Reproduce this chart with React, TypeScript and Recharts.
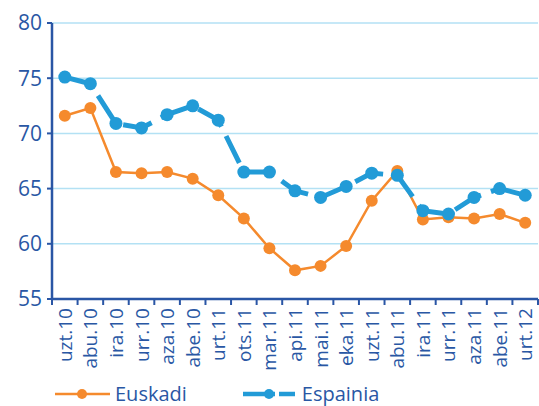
import { LineChart, Line, XAxis, YAxis, CartesianGrid, Legend } from 'recharts'

document.body.style.margin = '0'

const months = [
  'uzt.10', 'abu.10', 'ira.10', 'urr.10', 'aza.10', 'abe.10', 'urt.11', 'ots.11', 'mar.11', 'api.11',
  'mai.11', 'eka.11', 'uzt.11', 'abu.11', 'ira.11', 'urr.11', 'aza.11', 'abe.11', 'urt.12',
]
const euskadi = [71.6, 72.3, 66.5, 66.4, 66.5, 65.9, 64.4, 62.3, 59.6, 57.6, 58.0, 59.8, 63.9, 66.6, 62.2, 62.4, 62.3, 62.7, 61.9]
const espainia = [75.1, 74.5, 70.9, 70.5, 71.7, 72.5, 71.2, 66.5, 66.5, 64.8, 64.2, 65.2, 66.4, 66.2, 63.0, 62.7, 64.2, 65.0, 64.4]
const yTicks = [55, 60, 65, 70, 75, 80]

const data = months.map((m, i) => ({ month: m, euskadi: euskadi[i], espainia: espainia[i] }))

const W = 539
const H = 406
const Y_W = 52
const RIGHT = 1
const BAND = (W - Y_W - RIGHT) / months.length

const AXIS = '#2a56a5'
const TEXT = '#2957a4'
const ORANGE = '#f58a2d'
const BLUE = '#229bd7'
const FONT = '"Open Sans", sans-serif'

function MonthTick({ x, y, payload, index }: any) {
  const ty = y + 9
  return (
    <g>
      <line x1={x - BAND / 2} x2={x - BAND / 2} y1={y} y2={y + 6} stroke={AXIS} strokeWidth={2} />
      {index === months.length - 1 && (
        <line x1={x + BAND / 2} x2={x + BAND / 2} y1={y} y2={y + 6} stroke={AXIS} strokeWidth={2} />
      )}
      <text
        x={x}
        y={ty}
        transform={`rotate(-90 ${x} ${ty})`}
        textAnchor="end"
        dominantBaseline="central"
        fill={TEXT}
        fontSize={19}
        fontFamily={FONT}
      >
        {payload.value}
      </text>
    </g>
  )
}

function LegendContent() {
  return (
    <div
      style={{
        display: 'flex',
        alignItems: 'center',
        height: 24,
        lineHeight: '24px',
        paddingLeft: 55,
        fontFamily: FONT,
        fontSize: 20,
        color: TEXT,
      }}
    >
      <svg width={56} height={14}>
        <line x1={0} x2={55} y1={7} y2={7} stroke={ORANGE} strokeWidth={2.5} />
        <circle cx={27} cy={7} r={5} fill={ORANGE} />
      </svg>
      <span style={{ marginLeft: 4, marginRight: 56 }}>Euskadi</span>
      <svg width={54} height={14}>
        <line x1={0} x2={32} y1={7} y2={7} stroke={BLUE} strokeWidth={4.5} />
        <circle cx={26} cy={7} r={5} fill={BLUE} />
        <line x1={36} x2={52} y1={7} y2={7} stroke={BLUE} strokeWidth={4.5} />
      </svg>
      <span style={{ marginLeft: 5 }}>Espainia</span>
    </div>
  )
}

export default function App() {
  return (
    <LineChart width={W} height={H} data={data} margin={{ top: 23, right: RIGHT, left: 0, bottom: 0 }}>
      <CartesianGrid vertical={false} stroke="#b3e1f4" strokeWidth={1.5} />
      <XAxis
        dataKey="month"
        interval={0}
        height={83}
        padding={{ left: BAND / 2, right: BAND / 2 }}
        tickSize={0}
        tickMargin={0}
        tickLine={false}
        axisLine={{ stroke: AXIS, strokeWidth: 2.5 }}
        tick={<MonthTick />}
      />
      <YAxis
        domain={[55, 80]}
        ticks={yTicks}
        width={Y_W}
        tickSize={5}
        tickMargin={5}
        axisLine={{ stroke: AXIS, strokeWidth: 2.5 }}
        tickLine={{ stroke: AXIS, strokeWidth: 2 }}
        tick={{ fill: TEXT, fontSize: 21, fontFamily: FONT }}
      />
      <Legend
        verticalAlign="bottom"
        align="left"
        content={<LegendContent />}
        wrapperStyle={{ left: 0, bottom: 0, width: W, height: 24 }}
      />
      <Line
        dataKey="euskadi"
        name="Euskadi"
        stroke={ORANGE}
        strokeWidth={2.5}
        dot={{ r: 6, fill: ORANGE, stroke: ORANGE, strokeWidth: 0 }}
        activeDot={false}
        isAnimationActive={false}
      />
      <Line
        dataKey="espainia"
        name="Espainia"
        stroke={BLUE}
        strokeWidth={5}
        strokeDasharray="30 10.5"
        dot={{ r: 6.5, fill: BLUE, stroke: BLUE, strokeWidth: 0, strokeDasharray: '' }}
        activeDot={false}
        isAnimationActive={false}
      />
    </LineChart>
  )
}
